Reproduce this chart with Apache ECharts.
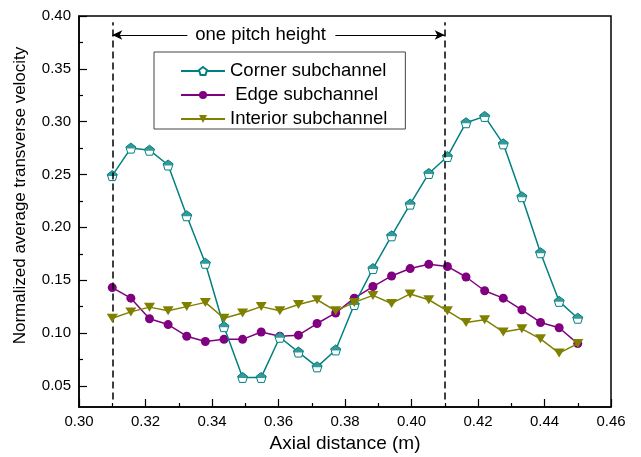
<!DOCTYPE html>
<html>
<head>
<meta charset="utf-8">
<script src="https://cdn.jsdelivr.net/npm/echarts@6/dist/echarts.min.js"></script>
<style>
  html, body { margin: 0; padding: 0; background: #ffffff; }
  #chart { width: 641px; height: 457px; }
</style>
</head>
<body>
<div id="chart"></div>
<script>
// Axial positions of the sampling planes (m)
const axialPositions = [
  0.3100, 0.3156, 0.3212, 0.3268, 0.3324, 0.3380, 0.3436, 0.3492, 0.3548,
  0.3604, 0.3660, 0.3716, 0.3772, 0.3828, 0.3884, 0.3940, 0.3996, 0.4052,
  0.4108, 0.4164, 0.4220, 0.4276, 0.4332, 0.4388, 0.4444, 0.4500
];

// Normalized average transverse velocity in each subchannel type
const cornerValues = [
  0.249, 0.275, 0.273, 0.259, 0.211, 0.166, 0.106, 0.058, 0.058,
  0.096, 0.082, 0.068, 0.084, 0.127, 0.161, 0.192, 0.222, 0.251,
  0.267, 0.299, 0.305, 0.279, 0.229, 0.176, 0.130, 0.114
];
const edgeValues = [
  0.143, 0.133, 0.1135, 0.108, 0.097, 0.092, 0.094, 0.094, 0.101,
  0.097, 0.098, 0.109, 0.119, 0.133, 0.144, 0.154, 0.161, 0.165,
  0.163, 0.153, 0.140, 0.133, 0.122, 0.110, 0.105, 0.090
];
const interiorValues = [
  0.114, 0.120, 0.1245, 0.121, 0.125, 0.129, 0.114, 0.119, 0.125,
  0.121, 0.127, 0.1315, 0.121, 0.129, 0.1356, 0.128, 0.137, 0.1315,
  0.121, 0.110, 0.1126, 0.101, 0.104, 0.0945, 0.081, 0.090
];

// Axis ticks
const yTickValues = [0.05, 0.10, 0.15, 0.20, 0.25, 0.30, 0.35, 0.40];
const yMinorTickValues = [0.075, 0.125, 0.175, 0.225, 0.275, 0.325, 0.375];

// One pitch height between two dashed planes
const pitchStart = 0.31;
const pitchEnd = 0.41;

const FONT = '"Liberation Sans", Arial, sans-serif';
const TEAL = '#008080';
const PURPLE = '#800080';
const OLIVE = '#808000';

// Pentagon marker, and its upper half used as the filled cap
const PENTAGON = 'path://M0,-1L0.951,-0.309L0.588,0.809L-0.588,0.809L-0.951,-0.309Z';
const PENTAGON_CAP = 'path://M0,-1L0.951,-0.309L0.851,0L-0.851,0L-0.951,-0.309Z';
const PENT_SIZE = 10;
const capUnit = PENT_SIZE / 1.809;

const pairs = vals => axialPositions.map((x, i) => [x, vals[i]]);

const chart = echarts.init(document.getElementById('chart'), null, { renderer: 'canvas' });

const option = {
  animation: false,
  backgroundColor: '#ffffff',
  textStyle: { fontFamily: FONT },
  grid: {
    left: 79, right: 30, top: 16, bottom: 50,
    show: true, borderColor: '#000', borderWidth: 1.5,
    backgroundColor: 'transparent',
    containLabel: false,
    outerBoundsMode: 'none'
  },
  legend: {
    orient: 'vertical',
    left: 154, top: 52,
    padding: [9, 18, 0, 26],
    itemWidth: 44, itemHeight: 10, itemGap: 4,
    borderColor: '#444', borderWidth: 1, backgroundColor: '#fff',
    data: ['Corner subchannel', 'Edge subchannel', 'Interior subchannel'],
    formatter: name => (name === 'Edge subchannel' ? ' ' + name : name),
    textStyle: { fontSize: 18.5, color: '#000', fontFamily: FONT, lineHeight: 20 },
    selectedMode: false
  },
  xAxis: {
    type: 'value',
    min: 0.30, max: 0.46, interval: 0.02,
    name: 'Axial distance (m)',
    nameLocation: 'middle', nameGap: 22,
    nameTextStyle: { fontSize: 19, color: '#000', fontFamily: FONT },
    axisLine: { show: true, lineStyle: { color: '#000', width: 1.5 } },
    axisTick: { show: true, inside: true, length: 8, lineStyle: { color: '#000', width: 1.2 } },
    minorTick: { show: true, splitNumber: 2, length: 4, lineStyle: { color: '#000', width: 1.2 } },
    axisLabel: { fontSize: 15, color: '#000', margin: 7, fontFamily: FONT,
                 formatter: v => v.toFixed(2) },
    splitLine: { show: false },
    minorSplitLine: { show: false }
  },
  yAxis: [
    {
      type: 'value',
      min: 0.03, max: 0.40,
      name: 'Normalized average transverse velocity',
      nameLocation: 'middle', nameGap: 50,
      nameTextStyle: { fontSize: 17, color: '#000', fontFamily: FONT, padding: [0, 0, 0, 32] },
      axisLine: { show: true, lineStyle: { color: '#000', width: 1.5 } },
      axisTick: { show: true, inside: true, length: 8, customValues: yTickValues,
                  lineStyle: { color: '#000', width: 1.2 } },
      axisLabel: { fontSize: 15, color: '#000', margin: 8, fontFamily: FONT,
                   customValues: yTickValues, formatter: v => v.toFixed(2) },
      splitLine: { show: false }
    },
    {
      type: 'value',
      min: 0.03, max: 0.40,
      position: 'left',
      axisLine: { show: false },
      axisTick: { show: true, inside: true, length: 4, customValues: yMinorTickValues,
                  lineStyle: { color: '#000', width: 1.2 } },
      axisLabel: { show: false },
      splitLine: { show: false }
    }
  ],
  series: [
    {
      name: 'Edge subchannel',
      type: 'line',
      data: pairs(edgeValues),
      symbol: 'circle', symbolSize: 9,
      itemStyle: { color: PURPLE },
      lineStyle: { color: PURPLE, width: 1.5 },
      emphasis: { disabled: true },
      z: 2
    },
    {
      name: 'Corner subchannel',
      type: 'line',
      data: pairs(cornerValues),
      symbol: PENTAGON, symbolSize: PENT_SIZE,
      itemStyle: { color: '#ffffff', borderColor: TEAL, borderWidth: 1 },
      lineStyle: { color: TEAL, width: 1.5 },
      emphasis: { disabled: true },
      z: 3
    },
    {
      name: 'Corner cap',
      type: 'scatter',
      data: pairs(cornerValues),
      symbol: PENTAGON_CAP,
      symbolSize: [PENT_SIZE, capUnit],
      symbolOffset: [0, -0.405 * capUnit],
      itemStyle: { color: TEAL },
      emphasis: { disabled: true },
      silent: true,
      z: 4
    },
    {
      name: 'Interior subchannel',
      type: 'line',
      data: pairs(interiorValues),
      symbol: 'triangle', symbolSize: [11, 9], symbolRotate: 180,
      itemStyle: { color: OLIVE },
      lineStyle: { color: OLIVE, width: 1.5 },
      emphasis: { disabled: true },
      z: 5
    },
    {
      name: 'Pitch markers',
      type: 'scatter',
      data: [],
      silent: true,
      z: 1,
      markLine: {
        silent: true,
        animation: false,
        symbol: 'none',
        label: { show: false },
        emphasis: { disabled: true },
        data: [
          [
            { coord: [pitchStart, 0.037], lineStyle: { color: '#000', width: 1.5, type: [7, 4] } },
            { coord: [pitchStart, 0.394] }
          ],
          [
            { coord: [pitchEnd, 0.037], lineStyle: { color: '#000', width: 1.5, type: [7, 4] } },
            { coord: [pitchEnd, 0.394] }
          ],
          [
            { coord: [0.3326, 0.382], symbol: 'none', lineStyle: { color: '#000', width: 1, type: 'solid' } },
            { coord: [pitchStart, 0.382], symbol: 'arrow', symbolSize: [7, 10] }
          ],
          [
            { coord: [0.3771, 0.382], symbol: 'none', lineStyle: { color: '#000', width: 1, type: 'solid' } },
            { coord: [pitchEnd, 0.382], symbol: 'arrow', symbolSize: [7, 10] }
          ]
        ]
      },
      markPoint: {
        silent: true,
        animation: false,
        symbol: 'circle', symbolSize: 1,
        itemStyle: { color: 'rgba(0,0,0,0)' },
        label: {
          show: true, position: 'inside',
          fontSize: 18.5, color: '#000', fontFamily: FONT
        },
        data: [
          { coord: [0.3546, 0.382], value: 'one pitch height',
            label: { formatter: 'one pitch height' } }
        ]
      }
    }
  ]
};

chart.setOption(option);
</script>
</body>
</html>
